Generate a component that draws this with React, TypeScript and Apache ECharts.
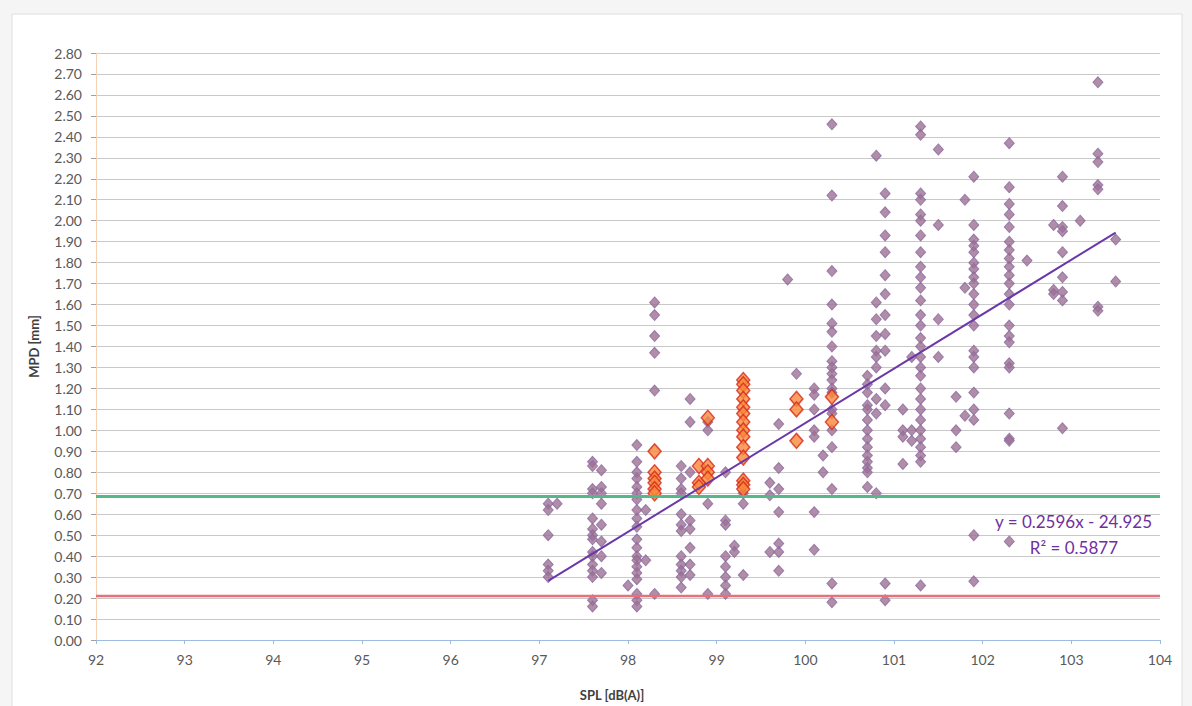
import React, { useEffect, useRef } from "react";
import * as echarts from "echarts";

// SPL [dB(A)] columns and the MPD [mm] values measured at each
const purpleSpl = [97.1, 97.2, 97.6, 97.7, 98.0, 98.1, 98.2, 98.3, 98.6, 98.7, 98.9, 99.1, 99.2, 99.3, 99.6, 99.7, 99.8, 99.9, 100.1, 100.2, 100.3, 100.7, 100.8, 100.9, 101.1, 101.2, 101.3, 101.5, 101.7, 101.8, 101.9, 102.3, 102.5, 102.8, 102.9, 103.1, 103.3, 103.5];
const purpleMpd: number[][] = [
  [0.65, 0.62, 0.5, 0.36, 0.33, 0.3],
  [0.65],
  [0.85, 0.83, 0.72, 0.7, 0.58, 0.53, 0.5, 0.48, 0.42, 0.4, 0.36, 0.33, 0.3, 0.19, 0.16],
  [0.81, 0.73, 0.7, 0.65, 0.55, 0.47, 0.4, 0.32],
  [0.26],
  [0.93, 0.85, 0.8, 0.77, 0.73, 0.7, 0.67, 0.62, 0.58, 0.54, 0.48, 0.44, 0.4, 0.38, 0.35, 0.32, 0.29, 0.22, 0.19, 0.16],
  [0.62, 0.38],
  [1.61, 1.55, 1.45, 1.37, 1.19, 0.22],
  [0.83, 0.77, 0.72, 0.7, 0.6, 0.55, 0.52, 0.4, 0.36, 0.33, 0.3, 0.25],
  [1.15, 1.04, 0.8, 0.57, 0.53, 0.44, 0.36, 0.31],
  [1.04, 1.0, 0.65, 0.22],
  [0.8, 0.57, 0.55, 0.4, 0.35, 0.3, 0.26, 0.22],
  [0.45, 0.42],
  [0.7, 0.65, 0.31],
  [0.75, 0.69, 0.42],
  [1.03, 0.82, 0.72, 0.61, 0.46, 0.42, 0.33],
  [1.72],
  [1.27],
  [1.2, 1.17, 1.1, 1.0, 0.97, 0.61, 0.43],
  [0.88, 0.8],
  [2.46, 2.12, 1.76, 1.6, 1.51, 1.47, 1.4, 1.33, 1.3, 1.27, 1.24, 1.2, 1.18, 1.1, 1.08, 1.0, 0.92, 0.72, 0.27, 0.18],
  [1.26, 1.22, 1.18, 1.12, 1.1, 1.05, 1.0, 0.96, 0.92, 0.88, 0.85, 0.82, 0.8, 0.73],
  [2.31, 1.61, 1.53, 1.45, 1.38, 1.35, 1.3, 1.15, 1.08, 0.7],
  [2.13, 2.04, 1.93, 1.85, 1.74, 1.65, 1.55, 1.46, 1.38, 1.2, 1.12, 0.27, 0.19],
  [1.1, 1.0, 0.97, 0.84],
  [1.35, 1.0, 0.95],
  [2.45, 2.41, 2.13, 2.1, 2.03, 2.0, 1.93, 1.85, 1.78, 1.73, 1.68, 1.62, 1.55, 1.5, 1.44, 1.4, 1.35, 1.3, 1.26, 1.2, 1.15, 1.1, 1.05, 1.0, 0.96, 0.92, 0.88, 0.85, 0.26],
  [2.34, 1.98, 1.53, 1.35],
  [1.16, 1.0, 0.92],
  [2.1, 1.68, 1.07],
  [2.21, 1.98, 1.91, 1.88, 1.85, 1.8, 1.77, 1.73, 1.7, 1.65, 1.6, 1.55, 1.5, 1.38, 1.35, 1.3, 1.18, 1.1, 1.05, 0.5, 0.28],
  [2.37, 2.16, 2.08, 2.03, 1.97, 1.9, 1.86, 1.82, 1.78, 1.74, 1.7, 1.65, 1.6, 1.5, 1.45, 1.42, 1.32, 1.3, 1.08, 0.96, 0.95, 0.47],
  [1.81],
  [1.98, 1.67, 1.65],
  [2.21, 2.07, 1.97, 1.95, 1.85, 1.73, 1.66, 1.62, 1.01],
  [2.0],
  [2.66, 2.32, 2.28, 2.17, 2.15, 1.59, 1.57],
  [1.91, 1.71],
];

const orangeSpl = [98.3, 98.8, 98.9, 99.3, 99.9, 100.3];
const orangeMpd: number[][] = [
  [0.9, 0.8, 0.77, 0.75, 0.72, 0.7],
  [0.83, 0.75, 0.73],
  [1.06, 0.83, 0.8, 0.77],
  [1.24, 1.22, 1.19, 1.15, 1.11, 1.08, 1.04, 1.0, 0.97, 0.92, 0.87, 0.76, 0.74, 0.72],
  [1.15, 1.1, 0.95],
  [1.16, 1.04],
];

// Linear trend line as reported in the chart
const trendSlope = 0.2596;
const trendIntercept = -24.925;
const trendRange = [97.1, 103.5];
const trendText = ["y = 0.2596x - 24.925", "R² = 0.5877"];

// Threshold lines
const greenLevel = 0.685;
const redLevel = 0.21;
const xRange = [92, 104];

function toPoints(spl: number[], mpd: number[][]) {
  const out: number[][] = [];
  spl.forEach((x, i) => mpd[i].forEach((y) => out.push([x, y])));
  return out;
}

export default function App() {
  const ref = useRef<HTMLDivElement>(null);
  useEffect(() => {
    if (!ref.current) return;
    const chart = echarts.init(ref.current, null, { renderer: "svg" });
    const font = "Lato, 'Noto Sans', sans-serif";
    chart.setOption({
      animation: false,
      backgroundColor: "#f5f5f5",
      graphic: [
        {
          type: "rect",
          z: -10,
          shape: { x: 12, y: 14, width: 1170, height: 700 },
          style: { fill: "#ffffff", stroke: "#dedede", lineWidth: 1 },
          silent: true,
        },
        {
          type: "text",
          right: 40,
          top: 513,
          style: { text: trendText[0], fill: "#7030a0", font: `17px ${font}`, textAlign: "right" },
        },
        {
          type: "text",
          right: 74,
          top: 539,
          style: { text: trendText[1], fill: "#7030a0", font: `17px ${font}`, textAlign: "right" },
        },
      ],
      grid: { left: 96, right: 32, top: 53, bottom: 65, containLabel: false },
      xAxis: {
        type: "value",
        min: 92,
        max: 104,
        interval: 1,
        name: "SPL [dB(A)]",
        nameLocation: "middle",
        nameGap: 48,
        nameTextStyle: { fontFamily: font, fontWeight: "bold", fontSize: 13, color: "#404040", padding: [0, 32, 0, 0] },
        axisLine: { lineStyle: { color: "#9dbbe0", width: 1 } },
        axisTick: { show: true, length: 4, lineStyle: { color: "#9dbbe0" } },
        axisLabel: { fontFamily: font, fontSize: 14, color: "#595959", margin: 12 },
        splitLine: { show: false },
      },
      yAxis: {
        type: "value",
        min: 0,
        max: 2.8,
        interval: 0.1,
        name: "MPD [mm]",
        nameLocation: "middle",
        nameGap: 56,
        nameTextStyle: { fontFamily: font, fontWeight: "bold", fontSize: 13, color: "#404040" },
        axisLine: { show: true, lineStyle: { color: "#f6d2b3", width: 1 } },
        axisTick: { show: true, length: 5, lineStyle: { color: "#a0a0a0" } },
        axisLabel: { fontFamily: font, fontSize: 14, color: "#595959", margin: 14, formatter: (v: number) => v.toFixed(2) },
        splitLine: { show: true, lineStyle: { color: "#c9c9c9", width: 1 } },
      },
      series: [
        {
          type: "scatter",
          symbol: "diamond",
          symbolSize: [10, 11],
          itemStyle: { color: "#9e7092", borderColor: "#8a6aa0", borderWidth: 1 },
          data: toPoints(purpleSpl, purpleMpd),
          z: 2,
        },
        {
          type: "scatter",
          symbol: "diamond",
          symbolSize: [13, 15],
          itemStyle: { color: "#f7883a", borderColor: "#d8281a", borderWidth: 1.5 },
          data: toPoints(orangeSpl, orangeMpd),
          z: 3,
        },
        {
          type: "line",
          symbol: "none",
          lineStyle: { color: "#54b888", width: 3 },
          data: [[xRange[0], greenLevel], [xRange[1], greenLevel]],
          z: 4,
        },
        {
          type: "line",
          symbol: "none",
          lineStyle: { color: "#e8707a", width: 2.5 },
          data: [[xRange[0], redLevel], [xRange[1], redLevel]],
          z: 4,
        },
        {
          type: "line",
          symbol: "none",
          lineStyle: { color: "#6a38a8", width: 2 },
          data: trendRange.map((x) => [x, trendSlope * x + trendIntercept]),
          z: 5,
        },
      ],
    });
    return () => chart.dispose();
  }, []);
  return <div ref={ref} style={{ position: "absolute", left: 0, top: 0, width: 1192, height: 706 }} />;
}
